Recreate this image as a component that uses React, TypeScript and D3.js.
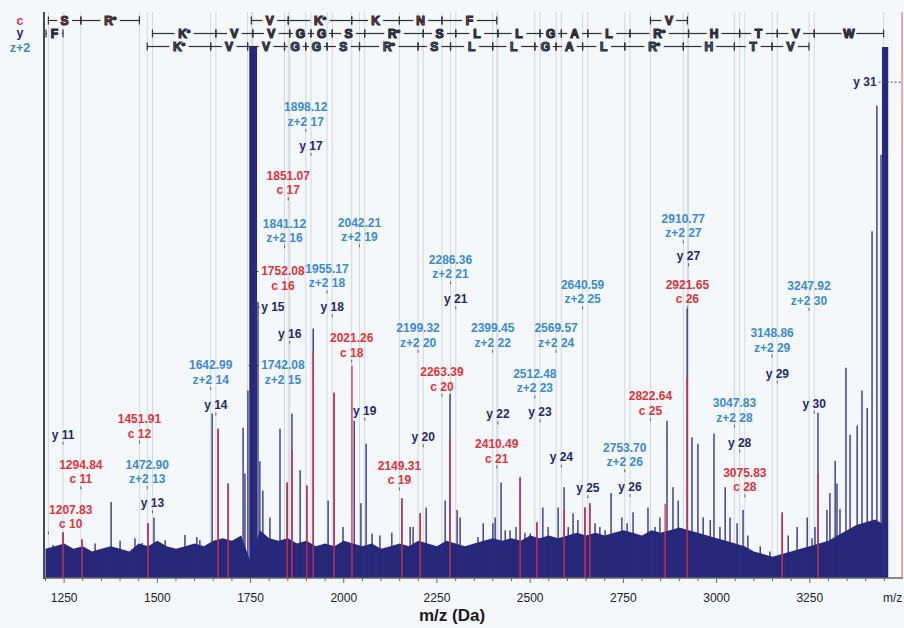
import React from "react";
import * as d3 from "d3";

const width = 904;
const height = 628;
const left = 44;
const right = 903;
const bottom = 578;
const top = 47;

const RED = "#e2333b";
const BLUE = "#3b8bd0";
const NAVY = "#25286c";
const PEAK = "#28287a";
const PEAK_RED = "#d8304a";
const GRID = "#d3d7dd";
const FONT = "'Liberation Sans', Arial, sans-serif";

// c ions: number, m/z, height of the annotation (% intensity)
const cNums = [10, 11, 12, 16, 17, 18, 19, 20, 21, 25, 26, 28];
const cMz = [1207.83, 1294.84, 1451.91, 1752.08, 1851.07, 2021.26, 2149.31, 2263.39, 2410.49, 2822.64, 2921.65, 3075.83];
const cLevels = [8.4, 16.9, 25.5, 53.3, 71.3, 40.7, 16.7, 34.3, 20.8, 29.8, 50.8, 15.4];
const cSteps = [10, 11, 16, 17, 18, 19, 20, 25];
const cResidues = ["S", "R*", "V", "K*", "K", "N", "F", "V"];

// z+2 ions
const zNums = [13, 14, 15, 16, 17, 18, 19, 20, 21, 22, 23, 24, 25, 26, 27, 28, 29, 30];
const zMz = [1472.9, 1642.99, 1742.08, 1841.12, 1898.12, 1955.17, 2042.21, 2199.32, 2286.36, 2399.45, 2512.48, 2569.57, 2640.59, 2753.7, 2910.77, 3047.83, 3148.86, 3247.92];
const zLevels = [16.9, 35.6, 35.6, 62.3, 84.2, 53.8, 62.5, 42.6, 55.5, 42.6, 34, 42.6, 50.8, 20.1, 63.2, 28.5, 41.7, 50.5];
const zSteps = [13, 14, 15, 16, 17, 18, 19, 20, 21, 22, 23, 24, 25, 26, 27, 28, 29];
const zResidues = ["K*", "V", "V", "G", "G", "S", "R*", "S", "L", "L", "G", "A", "L", "R*", "H", "T", "V"];

// y ions
const yNums = [11, 13, 14, 15, 16, 17, 18, 19, 20, 21, 22, 23, 24, 25, 26, 27, 28, 29, 30, 31];
const yMz = [1247.0, 1486.9, 1657.0, 1756.1, 1855.1, 1912.1, 1969.2, 2056.2, 2213.3, 2300.4, 2413.5, 2526.5, 2583.6, 2654.6, 2767.7, 2924.8, 3061.8, 3162.9, 3261.9, 3448.0];
const yLevels = [25.3, 12.4, 30.8, 49.3, 44.3, 79.7, 49.3, 29.8, 24.8, 50.8, 29.1, 29.5, 21, 15.2, 15.4, 58.9, 23.8, 36.8, 31.1, 91.7];
const ySteps = [10, 13, 14, 15, 16, 17, 18, 19, 20, 21, 22, 23, 24, 25, 26, 27, 28, 29, 30];
const yResidues = ["F", "K*", "V", "V", "G", "G", "S", "R*", "S", "L", "L", "G", "A", "L", "R*", "H", "T", "V", "W"];

// measured peaks
const peakMz = [1220, 1247, 1266, 1298, 1333, 1376, 1400, 1440, 1459, 1475, 1491, 1521, 1574, 1606, 1614, 1647, 1663, 1690, 1730, 1735, 1743, 1749, 1751, 1753, 1755, 1757, 1759, 1762, 1765, 1770, 1775, 1783, 1802, 1829, 1848, 1861, 1883, 1901, 1918, 1958, 1974, 1998, 2028, 2046, 2060, 2076, 2097, 2129, 2156, 2178, 2186, 2205, 2221, 2250, 2272, 2285, 2304, 2312, 2360, 2374, 2400, 2406, 2422, 2433, 2446, 2462, 2473, 2486, 2500, 2518, 2534, 2548, 2575, 2591, 2602, 2615, 2628, 2647, 2660, 2674, 2687, 2701, 2717, 2746, 2760, 2776, 2816, 2835, 2848, 2867, 2883, 2897, 2921, 2934, 2950, 2964, 2983, 2993, 3009, 3023, 3036, 3055, 3071, 3084, 3117, 3143, 3176, 3192, 3216, 3243, 3256, 3264, 3272, 3296, 3304, 3318, 3323, 3331, 3347, 3358, 3377, 3390, 3404, 3417, 3430, 3441, 3446, 3449, 3452, 3455, 3458];
const peakInt = [6.2, 8.6, 5.8, 7.3, 6.5, 14.3, 7, 7.5, 6.6, 10.3, 11.4, 7.1, 8.1, 7.7, 7.1, 31, 28.1, 17.8, 28.3, 19.7, 35.3, 100, 100, 100, 100, 100, 100, 100, 100, 52, 22, 16.5, 11.4, 28.1, 18, 31, 20.3, 17.4, 47, 14.6, 34.9, 9.6, 29.6, 14.1, 25.3, 8.4, 8, 8.5, 15, 9.6, 9.6, 12.2, 13.3, 5.8, 14.6, 34.7, 12.8, 11.4, 7.7, 10.3, 10.3, 11.4, 18, 9, 9, 9.6, 19, 8.5, 8.4, 10.5, 13.3, 9.6, 13.3, 17.1, 9.6, 12.2, 10.9, 13.3, 14.1, 10.3, 9.6, 9, 16, 11.4, 10.3, 12.4, 13.3, 9.6, 11.4, 29.6, 17.1, 14.6, 50.7, 26.5, 25.3, 11.4, 10.9, 27.2, 9.6, 17.1, 11.4, 10.3, 12.8, 8, 6, 5, 12.4, 8, 9.6, 11.4, 7.5, 9.6, 31.1, 12.8, 16, 22.1, 17.8, 13, 39.6, 27, 28.7, 35.3, 32, 65.3, 89, 79.7, 100, 100, 100, 100, 100];

// theoretical isotope lines drawn in red over the spectrum
const matchMz = [1247, 1298, 1475, 1663, 1690, 1848, 1861, 1901, 1918, 1974, 2022, 2156, 2205, 2285, 2473, 2518, 2591, 2647, 2660, 2862, 2921, 3176, 3272];
const matchInt = [8.6, 7, 10.3, 28.1, 17.8, 18, 24, 17.4, 42.4, 34.9, 40, 15, 12.2, 26.3, 19, 10.5, 13, 13.3, 14.1, 14, 37.7, 12, 19.7];

// noise floor, read every 25 Da from 1200 to 3450
const noiseLevel = [5.5, 6, 6.5, 5.5, 6, 5, 5.5, 6, 5.5, 5, 6.5, 6, 7, 6, 5.5, 6, 6.5, 6, 7, 7.5, 7, 8, 3, 9, 7.5, 7, 7.5, 6.5, 7, 6, 6.5, 6, 7, 6.5, 6, 6.5, 5.5, 6, 6.5, 6, 7, 6.5, 6, 7, 6.5, 6, 6.5, 7, 7.5, 7, 7.5, 7, 8, 7.5, 8, 7.5, 8, 8.5, 8, 8.5, 8, 8.5, 9, 8.5, 8, 9, 8.5, 9, 9.5, 9, 8.5, 8, 7.5, 7, 6.5, 6, 5, 4.5, 4, 4.5, 5, 5.5, 6, 6.5, 7, 8, 9, 10, 10.5, 11, 10];

const xTicks = [1250, 1500, 1750, 2000, 2250, 2500, 2750, 3000, 3250];

const xs = d3.scaleLinear().domain([1196, 3500]).range([left, right]);
const ys = d3.scaleLinear().domain([0, 100]).range([bottom, top]).clamp(true);

const charW: Record<string, number> = { ".": 3.3, " ": 3.3, "+": 7, "z": 6, "*": 4.7, "1": 6.7 };
const textW = (s: string) => s.split("").reduce((a, ch) => a + (charW[ch] ?? (/[A-Z]/.test(ch) ? 8.7 : 6.7)), 0);

const rowY = { c: 20.5, y: 33.5, z: 46.5 };

function Residue({ x, y, res, color }: { x: number; y: number; res: string; color: string }) {
  const star = res.endsWith("*");
  return (
    <text x={x} y={y + 4.5} textAnchor="middle" fill={color} fontSize={12} fontWeight="bold" fontFamily={FONT}>
      {star ? res[0] : res}
      {star && <tspan fontSize={8} dy={-3}>*</tspan>}
    </text>
  );
}

function Ladder({ steps, residues, nums, mz, y, color }: { steps: number[]; residues: string[]; nums: number[]; mz: number[]; y: number; color: string }) {
  const mass = new Map(nums.map((n, i) => [n, mz[i]] as [number, number]));
  return (
    <g>
      {steps.map((n, i) => {
        const a = mass.has(n) ? xs(mass.get(n)!) : left + 2;
        const b = xs(mass.get(n + 1)!);
        const mid = (a + b) / 2;
        const hw = textW(residues[i]) / 2 + 3;
        return (
          <g key={n} stroke="#2f2f36" strokeWidth={1.2}>
            <line x1={a} x2={Math.max(a, mid - hw)} y1={y} y2={y} />
            <line x1={Math.min(b, mid + hw)} x2={b} y1={y} y2={y} />
            <line x1={a} x2={a} y1={y - 4} y2={y + 4} />
            <line x1={b} x2={b} y1={y - 4} y2={y + 4} />
            <Residue x={mid} y={y} res={residues[i]} color={color} />
          </g>
        );
      })}
    </g>
  );
}

type Lab = { mz: number; level: number; lines: string[]; color: string };

const labels: Lab[] = [
  ...cMz.map((m, i) => ({ mz: m, level: cLevels[i], lines: [m.toFixed(2), `c ${cNums[i]}`], color: RED })),
  ...zMz.map((m, i) => ({ mz: m, level: zLevels[i], lines: [m.toFixed(2), `z+2 ${zNums[i]}`], color: BLUE })),
  ...yMz.map((m, i) => ({ mz: m, level: yLevels[i], lines: [`y ${yNums[i]}`], color: NAVY })),
];

function Label({ d }: { d: Lab }) {
  const x = xs(d.mz);
  const ay = ys(d.level);
  const w = Math.max(...d.lines.map(textW));
  const n = d.lines.length;
  const base = (k: number) => ay - 5 - (n - 1 - k) * 14.5;
  let cx = x;
  let anchor: "middle" | "end" = "middle";
  let leader: React.ReactNode = null;
  let tick = true;
  if (d.mz > 1738 && d.mz < 1760) {
    // pushed off the saturated peak
    const lx = xs(1765) + 5;
    cx = lx + w / 2;
    const ly = base(0) - 4;
    leader = <line x1={x + 1} x2={lx - 1} y1={ly} y2={ly} stroke="#333" strokeWidth={1} strokeDasharray="2,2" />;
    tick = false;
  } else if (x > right - 30) {
    anchor = "end";
    cx = x - 7;
    const ly = base(n - 1) - 4;
    leader = <line x1={x - 5} x2={right - 1} y1={ly} y2={ly} stroke="#444" strokeWidth={1} strokeDasharray="2,2" />;
    tick = false;
  } else {
    cx = Math.max(x, left + w / 2 + 5);
  }
  return (
    <g>
      {leader}
      {tick && <line x1={x} x2={x} y1={ay - 2} y2={ay + 1} stroke="#666" strokeWidth={1} />}
      {d.lines.map((t, k) => (
        <text key={k} x={cx} y={base(k)} textAnchor={anchor} fill={d.color} fontSize={12} fontWeight="bold" fontFamily={FONT}>
          {t}
        </text>
      ))}
    </g>
  );
}

export default function App() {
  const noiseMz = d3.range(1200, 3451, 25);
  const noise = d3
    .area<number>()
    .x((_, i) => xs(noiseMz[i]))
    .y0(bottom)
    .y1((v) => ys(v))
    .curve(d3.curveLinear)(noiseLevel);

  const ionMz = [...cMz, ...zMz, ...yMz].filter((m) => m > 1196 && m < 3500);

  return (
    <svg width={width} height={height} style={{ position: "absolute", left: 0, top: 0 }}>
      <rect width={width} height={height} fill="#f5f8fb" />

      {/* guide lines for assigned fragments */}
      {ionMz.map((m, i) => (
        <line key={i} x1={xs(m)} x2={xs(m)} y1={12} y2={bottom} stroke={GRID} strokeWidth={1} />
      ))}

      {/* spectrum */}
      <path d={noise ?? ""} fill={PEAK} />
      {peakMz.map((m, i) => (
        <line key={i} x1={xs(m)} x2={xs(m)} y1={bottom} y2={ys(peakInt[i])} stroke={PEAK} strokeWidth={peakInt[i] >= 100 ? 1.8 : 1.3} />
      ))}
      {matchMz.map((m, i) => (
        <line key={i} x1={xs(m)} x2={xs(m)} y1={bottom} y2={ys(matchInt[i])} stroke={PEAK_RED} strokeWidth={1.3} />
      ))}

      <line x1={right - 1} x2={right - 1} y1={12} y2={bottom} stroke="#e79090" strokeWidth={1.5} />

      {/* sequence ladders */}
      <Ladder steps={cSteps} residues={cResidues} nums={cNums} mz={cMz} y={rowY.c} color={RED} />
      <Ladder steps={ySteps} residues={yResidues} nums={yNums} mz={yMz} y={rowY.y} color={NAVY} />
      <Ladder steps={zSteps} residues={zResidues} nums={zNums} mz={zMz} y={rowY.z} color={BLUE} />
      <g fontFamily={FONT} fontWeight="bold" fontSize={12.5} textAnchor="middle">
        <text x={20} y={24.5} fill={RED}>c</text>
        <text x={20} y={37} fill={NAVY}>y</text>
        <text x={20} y={51.5} fill={BLUE}>z+2</text>
      </g>

      {/* annotations */}
      {labels.map((d, i) => (
        <Label key={i} d={d} />
      ))}

      {/* axes */}
      <line x1={left} x2={left} y1={12} y2={bottom + 1} stroke="#4a4a4a" strokeWidth={2} />
      <line x1={left} x2={right} y1={bottom} y2={bottom} stroke="#666" strokeWidth={1.5} />
      {d3.range(1200, 3500, 50).map((t) => (
        <line key={t} x1={xs(t)} x2={xs(t)} y1={bottom} y2={bottom + (t % 250 === 0 ? 5 : 3)} stroke="#666" strokeWidth={1} />
      ))}
      {xTicks.map((t) => (
        <text key={t} x={xs(t)} y={602} textAnchor="middle" fontSize={12} fontFamily={FONT} fill="#222">
          {t}
        </text>
      ))}
      <text x={883} y={602} fontSize={12} fontFamily={FONT} fill="#222">m/z</text>
      <text x={452} y={621} textAnchor="middle" fontSize={17} fontWeight="bold" fontFamily={FONT} fill="#1a1a1a">
        m/z (Da)
      </text>
    </svg>
  );
}
